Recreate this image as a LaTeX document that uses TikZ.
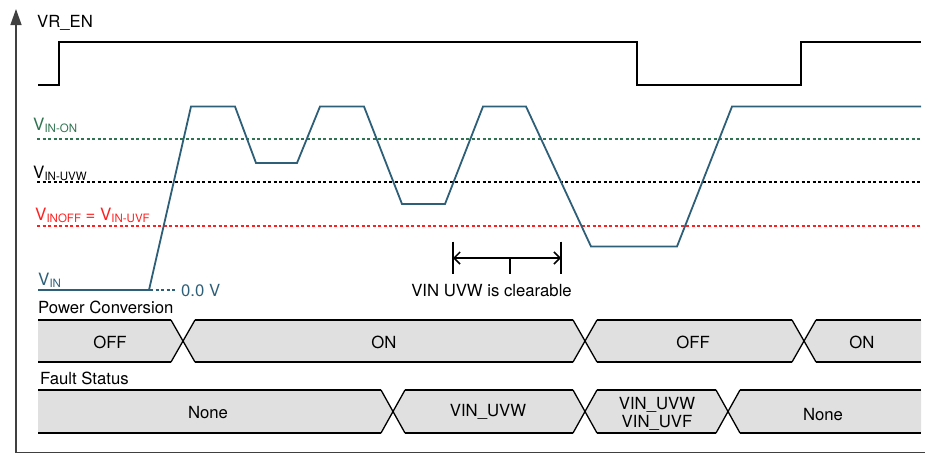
\documentclass[tikz,border=0pt]{standalone}
\usepackage{fontspec}
\setmainfont{TeX Gyre Heros}
\usetikzlibrary{arrows.meta}
\definecolor{vinblue}{HTML}{2E5F78}
\definecolor{ongreen}{HTML}{2F7350}
\definecolor{offred}{HTML}{FF2020}
\definecolor{busgray}{HTML}{E0E0E0}
\newcommand{\vlab}[1]{{\fontsize{17}{18}\selectfont V}\raisebox{-2pt}{\fontsize{11.5}{12}\selectfont #1}}

\begin{document}
\begin{tikzpicture}[x=1pt, y=-1pt, font=\fontsize{16.7}{18}\selectfont,
    wave/.style={line width=1.8pt, line join=miter},
    level/.style={line width=1.6pt, dash pattern=on 3pt off 2.5pt},
    busline/.style={line width=1.3pt},
    axisline/.style={line width=1.3pt, black!75}]

    \useasboundingbox (0,0) rectangle (925,456);

    % 1. Axes
    \draw[axisline, -{Triangle[length=16pt, width=11pt]}] (16,452.5) -- (16,9);
    \draw[axisline] (16,452.5) -- (925,452.5);

    % 2. VR_EN signal
    \node[anchor=base west, inner sep=0] (vren) at (37,27) {VR\_EN};
    \draw[wave] (38,85) -- (59,85) -- (59,42) -- (637,42) -- (637,85)
        -- (801,85) -- (801,42) -- (921,42);

    % 3. Threshold levels and their labels
    \draw[level, ongreen] (37,139) -- (921,139);
    \draw[level, black]   (37,182) -- (921,182);
    \draw[level, offred]  (37,226) -- (921,226);
    \node[anchor=base west, inner sep=0, ongreen] (vinon) at (33,130) {\vlab{IN-ON}};
    \node[anchor=base west, inner sep=0] (vinuvw) at (33,178) {\vlab{IN-UVW}};
    \node[anchor=base west, inner sep=0, offred] (vinoff) at (35,220)
        {\vlab{INOFF} = \vlab{IN-UVF}};

    % 4. VIN waveform
    \draw[wave, vinblue] (38,290) -- (149,290) -- (191,106.5) -- (235,106.5)
        -- (256,163) -- (297,163) -- (320,106.5) -- (364,106.5)
        -- (402,204) -- (445,204) -- (483,106.5) -- (526,106.5)
        -- (591,246.5) -- (677,246.5) -- (732,106.5) -- (921,106.5);
    \draw[level, vinblue] (150,290) -- (176,290);
    \node[anchor=base west, inner sep=0, vinblue] (vin) at (38,285) {\vlab{IN}};
    \node[anchor=base west, inner sep=0, vinblue] (zerov) at (181,296) {0.0 V};

    % 5. Clearable window
    \coordinate (clrL) at (453,258);
    \coordinate (clrR) at (561,258);
    \coordinate (clrM) at (510,258);
    \draw[line width=1.5pt] (453,241.5) -- (453,273.5);
    \draw[line width=1.5pt] (561,241.5) -- (561,273.5);
    \draw[line width=1.5pt, {Straight Barb[length=6pt, width=12pt]}-{Straight Barb[length=6pt, width=12pt]}]
        (clrL) -- (clrR);
    \draw[line width=1.5pt] (clrM) -- (510,273.5);
    \node[anchor=base, inner sep=0] (clr) at (491.5,296) {VIN UVW is clearable};

    % 6. Power Conversion bus
    \node[anchor=base west, inner sep=0] (pcname) at (38,313) {Power Conversion};
    \foreach \xa/\da/\xb/\db/\lx/\txt [count=\i] in
        {38/0/183/12/110/OFF, 183/12/585/12/384/ON, 585/12/804/12/693/OFF, 804/12/921/0/862/ON} {
        \fill[busgray] (\xa,341) -- (\xa+\da,320) -- (\xb-\db,320) -- (\xb,341)
            -- (\xb-\db,362) -- (\xa+\da,362) -- cycle;
        \draw[busline] (\xa+\da,320) -- (\xb-\db,320);
        \draw[busline] (\xa+\da,362) -- (\xb-\db,362);
        \node[anchor=base, inner sep=0] (pc\i) at (\lx,348) {\txt};
    }
    \foreach \c in {183,585,804}
        \draw[busline] (\c-12,320) -- (\c+12,362) (\c-12,362) -- (\c+12,320);

    % 7. Fault Status bus
    \node[anchor=base west, inner sep=0] (fsname) at (40,384) {Fault Status};
    \foreach \xa/\da/\xb/\db/\lx/\ly/\txt [count=\i] in
        {38/0/393/12/208/418/None, 393/12/585/12/488/416/VIN\_UVW,
         585/12/728/12/657/427/VIN\_UVW\\VIN\_UVF, 728/12/921/0/823/420/None} {
        \fill[busgray] (\xa,411.5) -- (\xa+\da,390) -- (\xb-\db,390) -- (\xb,411.5)
            -- (\xb-\db,433) -- (\xa+\da,433) -- cycle;
        \draw[busline] (\xa+\da,390) -- (\xb-\db,390);
        \draw[busline] (\xa+\da,433) -- (\xb-\db,433);
        \node[anchor=base, inner sep=0, align=center] (fs\i) at (\lx,\ly) {\txt};
    }
    \foreach \c in {393,585,728}
        \draw[busline] (\c-12,390) -- (\c+12,433) (\c-12,433) -- (\c+12,390);

\end{tikzpicture}
\end{document}
